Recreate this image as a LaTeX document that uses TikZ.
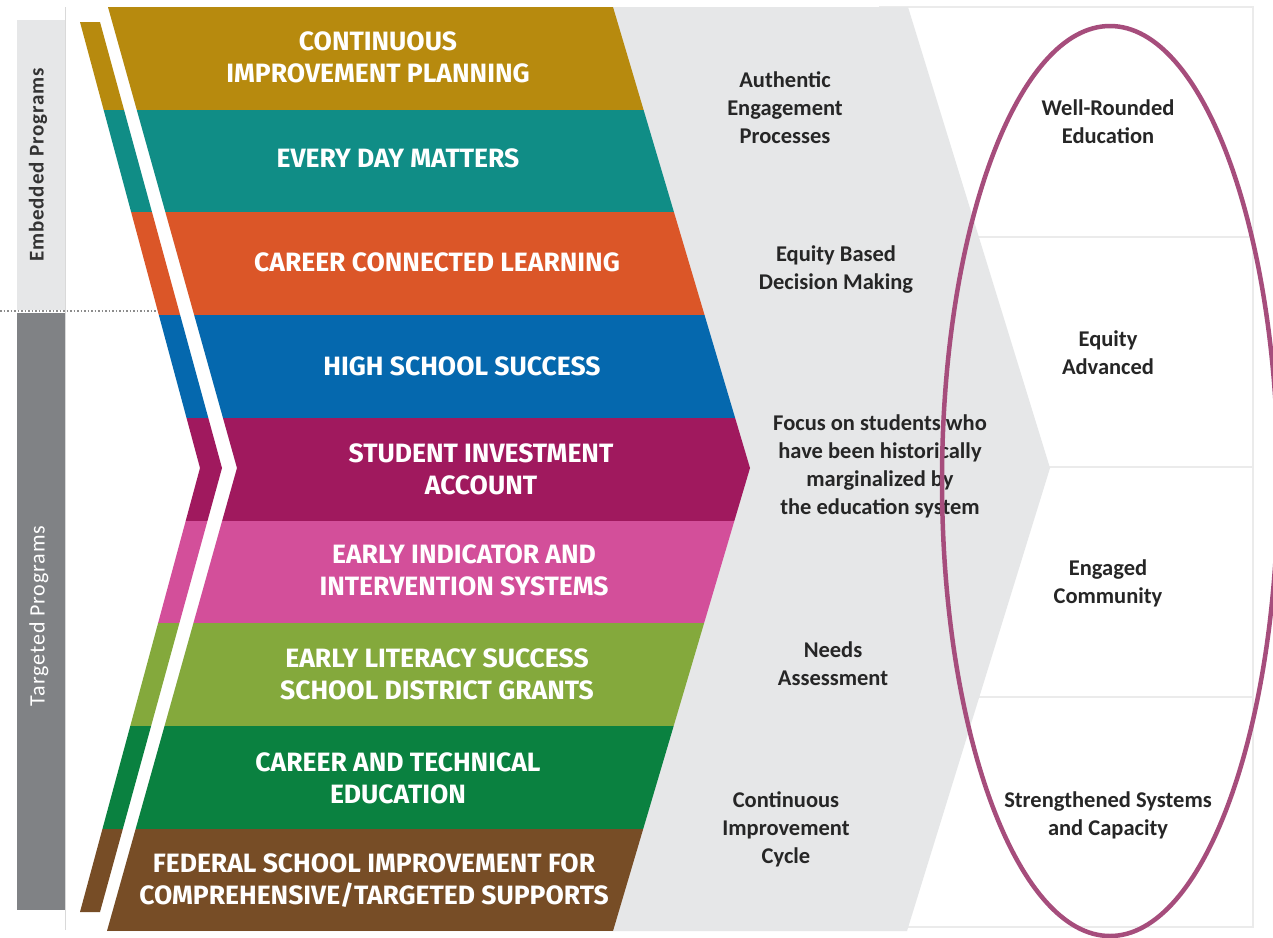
\documentclass[tikz,border=0pt]{standalone}
\usepackage{fontspec}
\setmainfont{Carlito}
\newfontfamily\bandfont{Fira Sans}
\newfontfamily\tagfont[LetterSpace=4]{Carlito}
\definecolor{bandGold}{RGB}{183,138,14}
\definecolor{bandTeal}{RGB}{16,141,134}
\definecolor{bandOrange}{RGB}{219,86,40}
\definecolor{bandBlue}{RGB}{5,104,174}
\definecolor{bandPlum}{RGB}{160,25,94}
\definecolor{bandPink}{RGB}{211,79,154}
\definecolor{bandOlive}{RGB}{132,169,60}
\definecolor{bandGreen}{RGB}{10,129,64}
\definecolor{bandBrown}{RGB}{119,77,38}
\definecolor{paleGray}{RGB}{230,231,232}
\definecolor{tagGray}{RGB}{128,130,133}
\definecolor{ringPurple}{RGB}{166,77,124}
\tikzset{
  bandtext/.style={text=white, align=center, font=\bandfont\bfseries\fontsize{26.5}{32}\selectfont},
  steptext/.style={text=black!85, align=center, font=\bfseries\fontsize{22.5}{28}\selectfont},
  outcome/.style={steptext},
  sidetag/.style={rotate=90, font=\tagfont\fontsize{22}{24}\selectfont},
  boxline/.style={draw=black!8, line width=1.5pt}
}

\begin{document}
\begin{tikzpicture}[x=1pt,y=-1pt]
\useasboundingbox (0,0) rectangle (1273,937);
\fill[white] (0,0) rectangle (1273,937);

% side tags
\fill[paleGray] (17,20) rectangle (65,310);
\fill[tagGray] (17,313) rectangle (65,910);
\draw[black!15, line width=1pt] (65,7) -- (65,930);
\draw[black!45, dotted, line width=1.5pt] (0,311) -- (165,311);
\node[sidetag, font=\tagfont\bfseries\fontsize{21}{24}\selectfont, text=black!80] (embedded) at (38,165) {Embedded Programs};
\node[sidetag, text=white] (targeted) at (39,616) {Targeted Programs};

% outcome boxes
\foreach \k in {0,1,2,3}
  \draw[boxline] (880,{7+\k*230}) rectangle (1253,{7+(\k+1)*230});

% gray chevron behind
\fill[paleGray] (108,7) -- (908,7) -- (1050,468) -- (907,931) -- (107,931) -- (237,468) -- cycle;

% colored bands
\begin{scope}
\clip (108,7) -- (613,7) -- (750,468) -- (613,931) -- (107,931) -- (237,468) -- cycle;
\foreach \c [count=\i from 0] in {bandGold,bandTeal,bandOrange,bandBlue,bandPlum,bandPink,bandOlive,bandGreen,bandBrown}
  \fill[\c] (60,{7+\i*102.7}) rectangle (800,{7+(\i+1)*102.7});
\end{scope}
% thin strip left of the gap
\begin{scope}
\clip (80,22) -- (100,22) -- (222,468) -- (100,912) -- (80,912) -- (200,468) -- cycle;
\foreach \c [count=\i from 0] in {bandGold,bandTeal,bandOrange,bandBlue,bandPlum,bandPink,bandOlive,bandGreen,bandBrown}
  \fill[\c] (60,{7+\i*102.7}) rectangle (800,{7+(\i+1)*102.7});
\end{scope}

% band labels
\node[bandtext] (planning) at (378,57) {CONTINUOUS\\IMPROVEMENT PLANNING};
\node[bandtext] (everyday) at (398,158) {EVERY DAY MATTERS};
\node[bandtext] (career) at (437,262) {CAREER CONNECTED LEARNING};
\node[bandtext] (highschool) at (462,366) {HIGH SCHOOL SUCCESS};
\node[bandtext] (investment) at (481,469) {STUDENT INVESTMENT\\ACCOUNT};
\node[bandtext] (indicator) at (464,570) {EARLY INDICATOR AND\\INTERVENTION SYSTEMS};
\node[bandtext] (literacy) at (437,674) {EARLY LITERACY SUCCESS\\SCHOOL DISTRICT GRANTS};
\node[bandtext] (cte) at (398,778) {CAREER AND TECHNICAL\\EDUCATION};
\node[bandtext] (federal) at (374,881) {FEDERAL SCHOOL IMPROVEMENT FOR\\COMPREHENSIVE/TARGETED SUPPORTS};

% process labels
\node[steptext] (authentic) at (785,108) {Authentic\\Engagement\\Processes};
\node[steptext] (equitybased) at (836,270) {Equity Based\\Decision Making};
\node[steptext] (focus) at (880,466) {Focus on students who\\have been historically\\marginalized by\\the education system};
\node[steptext] (needs) at (833,664) {Needs\\Assessment};
\node[steptext] (cycle) at (786,829) {Continuous\\Improvement\\Cycle};

% outcomes
\node[outcome] (wellrounded) at (1108,122) {Well-Rounded\\Education};
\node[outcome] (equityadv) at (1108,353) {Equity\\Advanced};
\node[outcome] (community) at (1108,583) {Engaged\\Community};
\node[outcome] (systems) at (1108,815) {Strengthened Systems\\and Capacity};

\draw[ringPurple, line width=4.5pt] (1110,481) ellipse [x radius=168pt, y radius=455pt];
\end{tikzpicture}
\end{document}
